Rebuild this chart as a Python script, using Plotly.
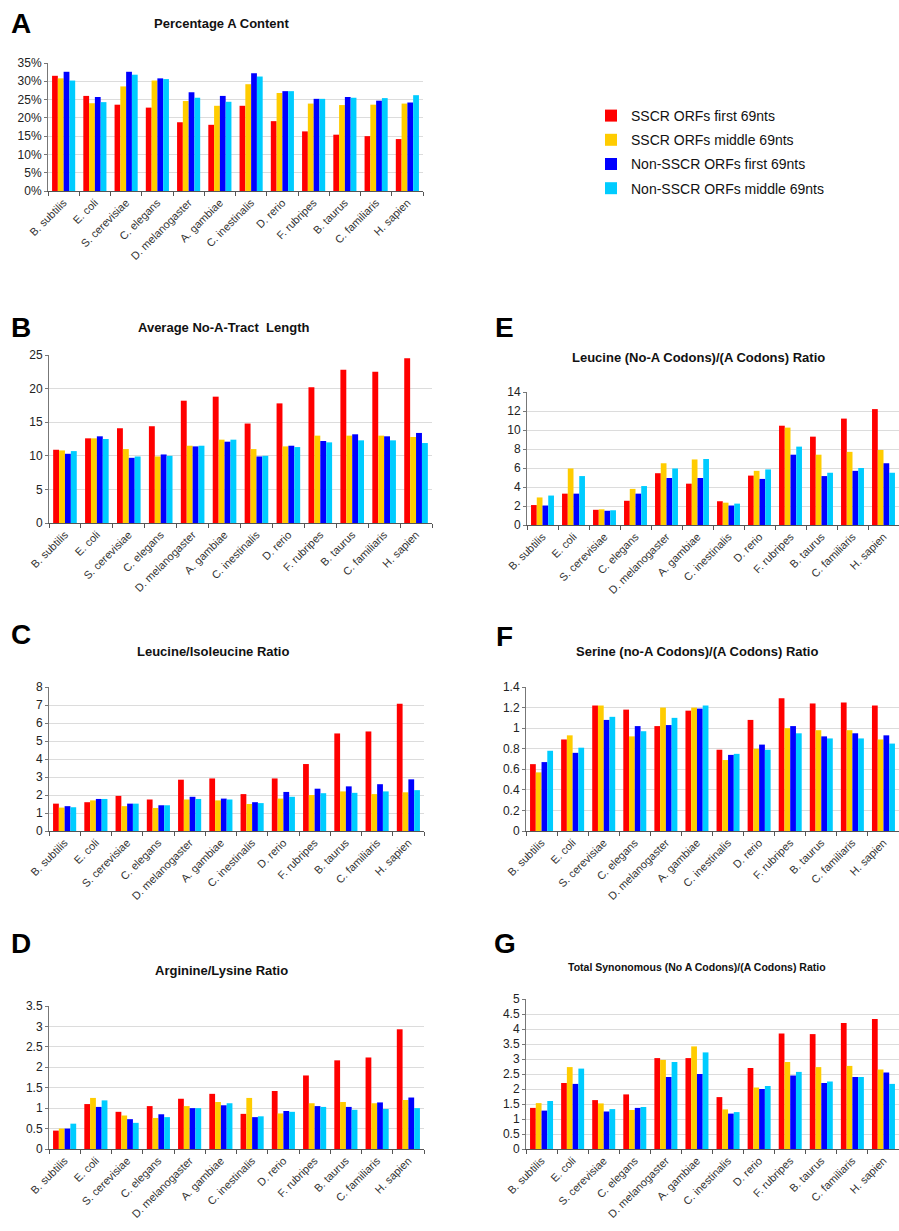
import plotly.graph_objects as go

species = ["B. subtilis", "E. coli", "S. cerevisiae", "C. elegans", "D. melanogaster",
           "A. gambiae", "C. inestinalis", "D. rerio", "F. rubripes", "B. taurus",
           "C. familiaris", "H. sapien"]

series_names = ["SSCR ORFs first 69nts", "SSCR ORFs middle 69nts",
                "Non-SSCR ORFs first 69nts", "Non-SSCR ORFs middle 69nts"]
series_colors = ["#FF0000", "#FFCC00", "#0000FF", "#00CCFF"]

# Panel A: Percentage A Content (%)
a_sscr_first = [31.5, 26.0, 23.6, 22.8, 18.8, 18.1, 23.3, 19.1, 16.3, 15.4, 15.0, 14.2]
a_sscr_mid = [30.8, 24.0, 28.6, 30.2, 24.6, 23.3, 29.2, 26.8, 23.9, 23.5, 23.6, 23.9]
a_non_first = [32.6, 25.7, 32.6, 30.8, 27.0, 26.0, 32.2, 27.3, 25.2, 25.7, 24.7, 24.2]
a_non_mid = [30.2, 24.3, 31.8, 30.6, 25.5, 24.4, 31.3, 27.3, 25.2, 25.5, 25.4, 26.2]

# Panel B: Average No-A-Tract Length
b_sscr_first = [10.9, 12.6, 14.1, 14.4, 18.2, 18.8, 14.8, 17.8, 20.2, 22.8, 22.5, 24.5]
b_sscr_mid = [10.8, 12.6, 11.0, 9.9, 11.5, 12.4, 11.0, 11.4, 13.0, 13.0, 13.0, 12.8]
b_non_first = [10.3, 12.9, 9.7, 10.2, 11.4, 12.1, 9.9, 11.5, 12.2, 13.2, 12.9, 13.4]
b_non_mid = [10.7, 12.5, 9.9, 10.0, 11.5, 12.4, 10.0, 11.3, 12.0, 12.3, 12.3, 11.9]

# Panel C: Leucine/Isoleucine Ratio
c_sscr_first = [1.52, 1.60, 1.95, 1.75, 2.85, 2.92, 2.05, 2.92, 3.72, 5.42, 5.53, 7.07]
c_sscr_mid = [1.30, 1.70, 1.38, 1.28, 1.75, 1.70, 1.50, 1.80, 2.00, 2.20, 2.05, 2.15]
c_non_first = [1.38, 1.78, 1.52, 1.43, 1.90, 1.80, 1.60, 2.17, 2.35, 2.48, 2.60, 2.87]
c_non_mid = [1.32, 1.78, 1.52, 1.43, 1.78, 1.75, 1.55, 1.90, 2.10, 2.12, 2.20, 2.27]

# Panel D: Arginine/Lysine Ratio
d_sscr_first = [0.45, 1.10, 0.91, 1.05, 1.23, 1.35, 0.86, 1.42, 1.80, 2.17, 2.24, 2.93]
d_sscr_mid = [0.50, 1.25, 0.82, 0.76, 1.05, 1.15, 1.25, 0.87, 1.12, 1.15, 1.12, 1.20]
d_non_first = [0.50, 1.03, 0.73, 0.85, 1.00, 1.07, 0.78, 0.93, 1.05, 1.03, 1.14, 1.26]
d_non_mid = [0.62, 1.19, 0.64, 0.78, 1.00, 1.12, 0.80, 0.91, 1.03, 0.96, 0.98, 1.00]

# Panel E: Leucine (No-A Codons)/(A Codons) Ratio
e_sscr_first = [2.10, 3.30, 1.60, 2.55, 5.45, 4.35, 2.50, 5.20, 10.45, 9.30, 11.20, 12.20]
e_sscr_mid = [2.90, 5.95, 1.65, 3.80, 6.50, 6.90, 2.35, 5.70, 10.25, 7.40, 7.70, 7.90]
e_non_first = [2.05, 3.30, 1.50, 3.30, 4.95, 4.95, 2.05, 4.85, 7.40, 5.15, 5.70, 6.50]
e_non_mid = [3.10, 5.15, 1.55, 4.10, 5.95, 6.95, 2.25, 5.85, 8.25, 5.50, 6.00, 5.50]

# Panel F: Serine (no-A Codons)/(A Codons) Ratio
f_sscr_first = [0.65, 0.89, 1.22, 1.18, 1.02, 1.17, 0.79, 1.08, 1.29, 1.24, 1.25, 1.22]
f_sscr_mid = [0.57, 0.93, 1.22, 0.92, 1.20, 1.20, 0.69, 0.80, 1.00, 0.98, 0.98, 0.89]
f_non_first = [0.67, 0.76, 1.08, 1.02, 1.03, 1.19, 0.74, 0.84, 1.02, 0.92, 0.95, 0.93]
f_non_mid = [0.78, 0.81, 1.11, 0.97, 1.10, 1.22, 0.75, 0.79, 0.95, 0.90, 0.90, 0.85]

# Panel G: Total Synonomous (No A Codons)/(A Codons) Ratio
g_sscr_first = [1.37, 2.20, 1.63, 1.82, 3.03, 3.03, 1.73, 2.70, 3.85, 3.83, 4.20, 4.33]
g_sscr_mid = [1.53, 2.73, 1.52, 1.30, 2.97, 3.42, 1.32, 2.05, 2.90, 2.73, 2.77, 2.65]
g_non_first = [1.28, 2.17, 1.25, 1.37, 2.40, 2.50, 1.18, 2.00, 2.45, 2.20, 2.40, 2.55]
g_non_mid = [1.60, 2.68, 1.33, 1.40, 2.90, 3.22, 1.23, 2.10, 2.57, 2.25, 2.40, 2.17]

W, H = 899, 1231
FONT = "Arial, Liberation Sans, sans-serif"


def fx(px):
    return min(px / W, 1.0)


def fy(py):
    return 1 - py / H


panels = [
    dict(letter="A", title="Percentage A Content",
         data=[a_sscr_first, a_sscr_mid, a_non_first, a_non_mid],
         yr=[0, 35], dtick=5, xd=(48, 423), yd=(63, 191), suffix="%",
         tpos=(222, 23), tsize=13, lpos=(21, 23)),
    dict(letter="B", title="Average No-A-Tract  Length",
         data=[b_sscr_first, b_sscr_mid, b_non_first, b_non_mid],
         yr=[0, 25], dtick=5, xd=(49, 432), yd=(355, 523), suffix="",
         tpos=(223, 328), tsize=13, lpos=(21, 328)),
    dict(letter="C", title="Leucine/Isoleucine Ratio",
         data=[c_sscr_first, c_sscr_mid, c_non_first, c_non_mid],
         yr=[0, 8], dtick=1, xd=(49, 424), yd=(687, 831), suffix="",
         tpos=(213, 652), tsize=13, lpos=(21, 634)),
    dict(letter="D", title="Arginine/Lysine Ratio",
         data=[d_sscr_first, d_sscr_mid, d_non_first, d_non_mid],
         yr=[0, 3.5], dtick=0.5, xd=(49, 424), yd=(1006, 1149), suffix="",
         tpos=(221, 970), tsize=13, lpos=(21, 943)),
    dict(letter="E", title="Leucine (No-A Codons)/(A Codons) Ratio",
         data=[e_sscr_first, e_sscr_mid, e_non_first, e_non_mid],
         yr=[0, 14], dtick=2, xd=(527, 899), yd=(392, 525), suffix="",
         tpos=(698, 357), tsize=13, lpos=(504, 328)),
    dict(letter="F", title="Serine (no-A Codons)/(A Codons) Ratio",
         data=[f_sscr_first, f_sscr_mid, f_non_first, f_non_mid],
         yr=[0, 1.4], dtick=0.2, xd=(526, 899), yd=(687, 831), suffix="",
         tpos=(697, 652), tsize=13, lpos=(504, 636)),
    dict(letter="G", title="Total Synonomous (No A Codons)/(A Codons) Ratio",
         data=[g_sscr_first, g_sscr_mid, g_non_first, g_non_mid],
         yr=[0, 5], dtick=0.5, xd=(526, 899), yd=(999, 1149), suffix="",
         tpos=(697, 967), tsize=10.5, lpos=(505, 943)),
]

fig = go.Figure()
annotations = []
layout = {}
for i, p in enumerate(panels):
    n = i + 1
    xa = "x" if n == 1 else f"x{n}"
    ya = "y" if n == 1 else f"y{n}"
    for k in range(4):
        fig.add_trace(go.Bar(
            x=species, y=p["data"][k], name=series_names[k],
            marker=dict(color=series_colors[k], line=dict(width=0)),
            xaxis=xa, yaxis=ya, legendgroup=series_names[k],
            showlegend=(n == 1)))
    layout["xaxis" if n == 1 else f"xaxis{n}"] = dict(
        domain=[fx(p["xd"][0]), fx(p["xd"][1])], anchor=ya, automargin=False,
        type="category", tickangle=-45, tickson="boundaries",
        ticks="outside", ticklen=4, tickcolor="#555",
        showline=True, linecolor="#555", linewidth=1,
        showgrid=False, tickfont=dict(family=FONT, size=11, color="#333"),
        fixedrange=True)
    layout["yaxis" if n == 1 else f"yaxis{n}"] = dict(
        domain=[fy(p["yd"][1]), fy(p["yd"][0])], anchor=xa, automargin=False,
        range=p["yr"], dtick=p["dtick"], ticksuffix=p["suffix"],
        showline=True, linecolor="#777", linewidth=1,
        ticks="outside", ticklen=3, tickcolor="#777",
        showgrid=True, gridcolor="#dcdcdc", gridwidth=1,
        zeroline=False, tickfont=dict(family=FONT, size=12, color="#222"),
        fixedrange=True)
    annotations.append(dict(
        text=f"<b>{p['title']}</b>", x=fx(p["tpos"][0]), y=fy(p["tpos"][1]),
        xref="paper", yref="paper", showarrow=False, xanchor="center", yanchor="middle",
        font=dict(family=FONT, size=p["tsize"], color="#111")))
    annotations.append(dict(
        text=f"<b>{p['letter']}</b>", x=fx(p["lpos"][0]), y=fy(p["lpos"][1]),
        xref="paper", yref="paper", showarrow=False, xanchor="center", yanchor="middle",
        font=dict(family=FONT, size=28, color="#000")))

fig.update_layout(
    width=W, height=H, margin=dict(l=0, r=0, t=0, b=0, autoexpand=False),
    paper_bgcolor="white", plot_bgcolor="white",
    barmode="group", bargap=0.26, bargroupgap=0,
    annotations=annotations,
    showlegend=True,
    legend=dict(x=fx(591), y=fy(100), xanchor="left", yanchor="top",
                font=dict(family=FONT, size=14, color="#111"),
                tracegroupgap=3, itemwidth=30, bgcolor="rgba(0,0,0,0)"),
    font=dict(family=FONT),
    **layout,
)

fig.write_html(
    "out.html",
    config={"displayModeBar": False},
    post_script="document.body.style.margin='0';document.body.style.overflow='hidden';",
)
